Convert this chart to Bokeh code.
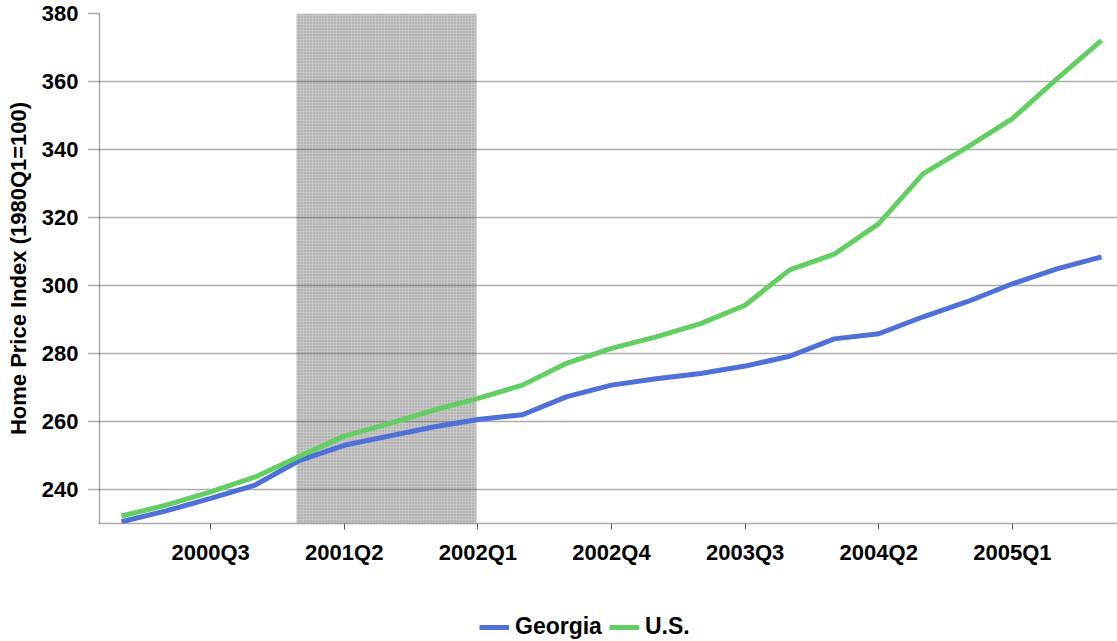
from bokeh.plotting import figure
from bokeh.layouts import column
from bokeh.models import BoxAnnotation, Legend, LegendItem, FixedTicker, Range1d
from bokeh.embed import file_html
from bokeh.resources import INLINE

# ---- data ----
quarters = ["2000Q1", "2000Q2", "2000Q3", "2000Q4", "2001Q1", "2001Q2", "2001Q3", "2001Q4",
            "2002Q1", "2002Q2", "2002Q3", "2002Q4", "2003Q1", "2003Q2", "2003Q3", "2003Q4",
            "2004Q1", "2004Q2", "2004Q3", "2004Q4", "2005Q1", "2005Q2", "2005Q3"]
georgia = [230.5, 233.7, 237.4, 241.3, 248.6, 253.0, 255.7, 258.4, 260.6, 262.0, 267.3, 270.7,
           272.6, 274.1, 276.3, 279.2, 284.3, 285.8, 290.8, 295.3, 300.5, 304.9, 308.4]
us = [232.2, 235.4, 239.3, 243.7, 249.8, 255.7, 259.4, 263.3, 266.8, 270.7, 277.2, 281.5,
      284.9, 288.8, 294.2, 304.6, 309.2, 318.2, 332.9, 340.8, 349.1, 360.8, 372.1]
tick_labels = ["2000Q3", "2001Q2", "2002Q1", "2002Q4", "2003Q3", "2004Q2", "2005Q1"]
recession_start = 3.93   # in quarter positions (2001Q1 ~ 4)
recession_end = 7.97
y_ticks = [240, 260, 280, 300, 320, 340, 360, 380]
series_names = ["Georgia", "U.S."]

x = list(range(len(quarters)))
tick_pos = [quarters.index(t) for t in tick_labels]

FONT = "Liberation Sans"
BLUE = "#4f6fd9"
GREEN = "#63cf63"
GRID = "#5a5a5a"

p = figure(width=1117, height=575, output_backend="svg", toolbar_location=None,
           x_range=Range1d(-0.494, 22.36), y_range=Range1d(230, 380),
           min_border_left=99, min_border_right=0, min_border_top=13, min_border_bottom=52)
p.outline_line_color = None
p.background_fill_color = "white"
p.border_fill_color = "white"

# recession shading
box = BoxAnnotation(left=recession_start, right=recession_end, fill_color="#c6c6c6", fill_alpha=1.0,
                    hatch_pattern="dot", hatch_color="#999999", hatch_scale=3, hatch_weight=1,
                    line_color=None, level="image")
p.add_layout(box)

# grid
p.xgrid.visible = False
p.ygrid.ticker = FixedTicker(ticks=y_ticks)
p.ygrid.grid_line_color = GRID
p.ygrid.grid_line_dash = "1 1"
p.ygrid.grid_line_width = 1.5

# lines
p.line(x, georgia, line_color=BLUE, line_width=5)
p.line(x, us, line_color=GREEN, line_width=5)

# y axis
yax = p.yaxis[0]
yax.ticker = FixedTicker(ticks=y_ticks)
yax.axis_line_color = GRID
yax.axis_line_dash = "1 1"
yax.axis_line_width = 1.5
yax.major_tick_line_color = GRID
yax.major_tick_line_dash = "1 1"
yax.major_tick_line_width = 1.5
yax.major_tick_out = 11
yax.major_tick_in = 0
yax.minor_tick_line_color = None
yax.major_label_standoff = 10
yax.major_label_text_font = FONT
yax.major_label_text_font_style = "bold"
yax.major_label_text_font_size = "22px"
yax.major_label_text_color = "black"
yax.axis_label = "Home Price Index (1980Q1=100)"
yax.axis_label_text_font = FONT
yax.axis_label_text_font_style = "bold"
yax.axis_label_text_font_size = "22px"
yax.axis_label_text_color = "black"
yax.axis_label_standoff = 8

# x axis
xax = p.xaxis[0]
xax.ticker = FixedTicker(ticks=tick_pos)
xax.major_label_overrides = {pos: lab for pos, lab in zip(tick_pos, tick_labels)}
xax.axis_line_color = GRID
xax.axis_line_dash = "1 1"
xax.axis_line_width = 1.5
xax.major_tick_line_color = GRID
xax.major_tick_out = 6
xax.major_tick_in = 0
xax.minor_tick_line_color = None
xax.major_label_standoff = 10
xax.major_label_text_font = FONT
xax.major_label_text_font_style = "bold"
xax.major_label_text_font_size = "22px"
xax.major_label_text_color = "black"

# legend strip below the chart (its frame is aligned with the chart's frame)
pl = figure(width=1117, height=66, output_backend="svg", toolbar_location=None,
            x_axis_type=None, y_axis_type=None,
            x_range=Range1d(1000, 1001), y_range=Range1d(0, 1),
            min_border_left=0, min_border_right=0, min_border_top=0, min_border_bottom=0)
pl.outline_line_color = None
pl.grid.visible = False
lg = pl.line(x, georgia, line_color=BLUE, line_width=5)
lu = pl.line(x, us, line_color=GREEN, line_width=5)
legend = Legend(items=[LegendItem(label=series_names[0], renderers=[lg]),
                       LegendItem(label=series_names[1], renderers=[lu])],
                orientation="horizontal", location=(380, 1),
                label_text_font=FONT, label_text_font_style="bold", label_text_font_size="23px",
                label_text_color="black", glyph_width=30, glyph_height=20, label_standoff=6,
                spacing=7, padding=2, margin=0, border_line_color=None,
                background_fill_alpha=0)
pl.add_layout(legend, "center")

layout = column(p, pl, spacing=0)
open("out.html", "w").write(file_html(layout, INLINE))
